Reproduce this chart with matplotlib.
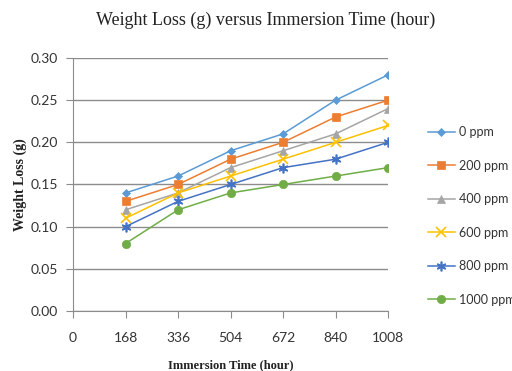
import matplotlib.pyplot as plt

hours = [168, 336, 504, 672, 840, 1008]
x_ticks = [0, 168, 336, 504, 672, 840, 1008]
y_ticks = [0.00, 0.05, 0.10, 0.15, 0.20, 0.25, 0.30]

labels = ['0 ppm', '200 ppm', '400 ppm', '600 ppm', '800 ppm', '1000 ppm']
loss_0 = [0.14, 0.16, 0.19, 0.21, 0.25, 0.28]
loss_200 = [0.13, 0.15, 0.18, 0.20, 0.23, 0.25]
loss_400 = [0.12, 0.14, 0.17, 0.19, 0.21, 0.24]
loss_600 = [0.11, 0.14, 0.16, 0.18, 0.20, 0.22]
loss_800 = [0.10, 0.13, 0.15, 0.17, 0.18, 0.20]
loss_1000 = [0.08, 0.12, 0.14, 0.15, 0.16, 0.17]

series = [loss_0, loss_200, loss_400, loss_600, loss_800, loss_1000]
colors = ['#5B9BD5', '#ED7D31', '#A5A5A5', '#FFC000', '#4472C4', '#70AD47']
markers = ['D', 's', '^', 'x', (6, 2, 0), 'o']
sizes = [4.5, 6, 6, 7, 7, 6]

fig = plt.figure(figsize=(5.12, 3.71), dpi=100)
ax = fig.add_axes([0.1426, 0.1617, 0.6154, 0.682])

for vals, lab, c, m, s in zip(series, labels, colors, markers, sizes):
    ax.plot(hours, vals, color=c, marker=m, markersize=s, linewidth=1.1,
            markeredgewidth=1.2 if m in ('x', (6, 2, 0)) else 0.5,
            markeredgecolor=c, label=lab)

ax.set_xlim(0, 1008)
ax.set_ylim(0, 0.30)
ax.set_xticks(x_ticks)
ax.set_yticks(y_ticks)
ax.set_yticklabels([f'{v:.2f}' for v in y_ticks])
ax.yaxis.grid(True, color='#8c8c8c', linewidth=1.0)
ax.set_axisbelow(True)

for side in ['top', 'right']:
    ax.spines[side].set_visible(False)
for side in ['left', 'bottom']:
    ax.spines[side].set_color('#8c8c8c')
ax.tick_params(axis='both', colors='#8c8c8c', length=5, labelcolor='#333333',
               labelsize=10)
ax.tick_params(axis='x', pad=10)
ax.tick_params(axis='y', pad=6)
for t in ax.get_xticklabels() + ax.get_yticklabels():
    t.set_fontfamily('Lato')

fig.text(0.518, 1 - 20 / 371, 'Weight Loss (g) versus Immersion Time (hour)',
         fontsize=13, family='Liberation Serif', color='#222222',
         ha='center', va='center')
ax.set_xlabel('Immersion Time (hour)', fontsize=9, family='Liberation Serif',
              fontweight='bold', color='#222222', labelpad=11)
ax.set_ylabel('Weight Loss (g)', fontsize=10, family='Liberation Serif',
              fontweight='bold', color='#222222', labelpad=2)

leg = ax.legend(loc='upper left', bbox_to_anchor=(1.09, 0.775), frameon=False,
                handlelength=2.2, handletextpad=0.3, labelspacing=1.72,
                prop={'family': 'Lato', 'size': 9})
for t in leg.get_texts():
    t.set_color('#333333')

fig.savefig('out.png', dpi=100)
